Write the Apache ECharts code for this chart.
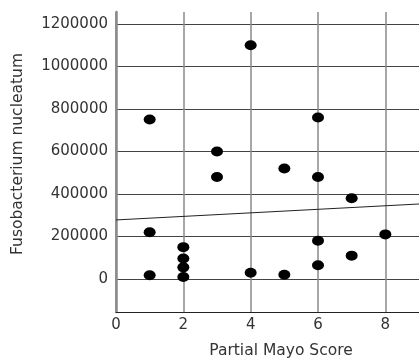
<!DOCTYPE html>
<html><head><meta charset="utf-8">
<script src="https://cdn.jsdelivr.net/npm/echarts@6/dist/echarts.min.js"></script>
<style>html,body{margin:0;padding:0;background:#fff}#c{width:419px;height:360px}</style>
</head><body><div id="c"></div>
<script>
const scoreX = [1, 4, 6, 3, 5, 3, 6, 7, 1, 8, 6, 2, 2, 2, 2, 1, 4, 5, 6, 7];
const fusoY = [750000, 1100000, 760000, 600000, 520000, 480000, 480000, 380000, 220000, 210000, 180000, 150000, 97000, 55000, 10000, 18000, 30000, 20000, 65000, 110000];
const trendX = [0, 9];
const trendY = [278000, 353000];
const yTicks = [0, 200000, 400000, 600000, 800000, 1000000, 1200000];
const xTicks = [0, 2, 4, 6, 8];

const font = 'DejaVu Sans';
const chart = echarts.init(document.getElementById('c'));
chart.setOption({
  animation: false,
  grid: {left: 116, top: 12, right: 0, bottom: 48, containLabel: false},
  xAxis: {
    type: 'value', min: 0, max: 9,
    axisLine: {show: true, onZero: false, lineStyle: {color: '#222', width: 1}},
    axisTick: {show: false, customValues: xTicks},
    axisLabel: {customValues: xTicks, color: '#333', fontFamily: font, fontSize: 15, margin: 6},
    splitLine: {show: true, lineStyle: {color: '#8a8a8a', width: 1.5}}
  },
  yAxis: {
    type: 'value', min: -155000, max: 1256000,
    axisLine: {show: true, lineStyle: {color: '#8a8a8a', width: 2.5}},
    axisTick: {show: false, customValues: yTicks},
    axisLabel: {customValues: yTicks, formatter: v => String(v), color: '#333', fontFamily: font, fontSize: 15, margin: 8},
    splitLine: {show: true, lineStyle: {color: '#444', width: 1}}
  },
  graphic: [{
    type: 'text', x: 18, y: 154, rotation: Math.PI / 2,
    style: {text: 'Fusobacterium nucleatum', fill: '#333', font: '15.5px "DejaVu Sans"', align: 'center', verticalAlign: 'middle'}
  }, {
    type: 'text', x: 281, y: 351,
    style: {text: 'Partial Mayo Score', fill: '#333', font: '15.5px "DejaVu Sans"', align: 'center', verticalAlign: 'middle'}
  }],
  series: [
    {type: 'line', data: trendX.map((x, i) => [x, trendY[i]]), symbol: 'none',
     lineStyle: {color: '#222', width: 1}, silent: true},
    {type: 'scatter', data: scoreX.map((x, i) => [x, fusoY[i]]), symbol: 'circle',
     symbolSize: [12, 10], itemStyle: {color: '#000', opacity: 1}}
  ]
});
</script></body></html>
